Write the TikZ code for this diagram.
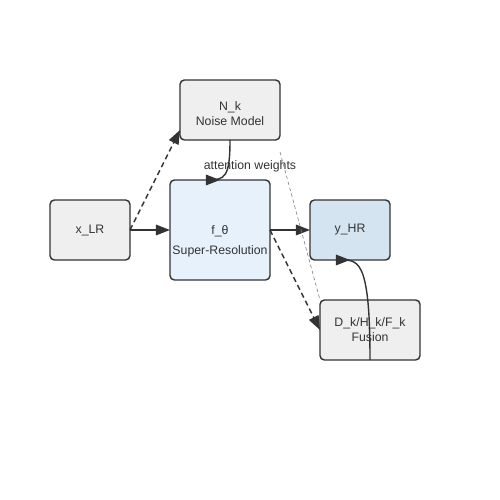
\documentclass[tikz,border=0pt]{standalone}
\usepackage{fontspec}
\setmainfont{Liberation Sans}
\usepackage{xcolor}
\usetikzlibrary{arrows.meta}
\usetikzlibrary{shapes,positioning}
\definecolor{nodegray}{HTML}{EFEFEF}
\definecolor{nodeblue}{HTML}{E6F1FC}
\definecolor{nodesteel}{HTML}{D4E5F1}
\definecolor{linegray}{HTML}{333333}
\tikzset{>={Triangle[length=8pt,width=6pt]}}
\tikzset{flow-line/.style={line width=0.8pt, color=linegray}}
\tikzset{flow-dashed/.style={line width=0.8pt, color=linegray, dash pattern=on 3pt off 2pt}}
\tikzset{flow-hint/.style={line width=0.35pt, color=gray, dash pattern=on 2pt off 1.5pt}}
\tikzset{flow-node/.style={draw=linegray, line width=0.8pt, fill=nodegray, rounded corners=2.5pt, minimum width=1.6cm, minimum height=1.2cm, inner sep=0, outer sep=0, align=center, text=linegray, font=\fontsize{7}{8.5}\selectfont}}
\tikzset{flow-text/.style={align=center, inner sep=0, text=linegray, font=\fontsize{7}{8.5}\selectfont}}

\begin{document}
\begin{tikzpicture}[]
            \useasboundingbox (0,0) rectangle (10,10);

            \node[flow-node] (xlr) at (1.8,5.4) {x\_LR};
            \node[flow-node, fill=nodeblue, minimum width=2cm, minimum height=2cm, right=0.8cm of xlr] (fsr) {};
            \node[flow-text] (fsrtext) at ([yshift=-0.22cm]fsr.center) {f\_θ\\[3pt]Super-Resolution};
            \node[flow-node, fill=nodesteel, right=0.8cm of fsr] (yhr) {y\_HR};

            \node[flow-node, minimum width=2cm, above=0.8cm of fsr, xshift=0.2cm] (nk) {};
            \node[flow-text] (nktext) at ([yshift=-0.07cm]nk.center) {N\_k\\Noise Model};
            \node[flow-node, minimum width=2cm, below=0.8cm of yhr, xshift=0.4cm] (fus) {D\_k/H\_k/F\_k\\Fusion};

            \node[flow-text] (attn) at ([xshift=0.6cm, yshift=0.28cm]fsr.north) {attention weights};

            \draw[->, flow-line] (xlr) -- (fsr);
            \draw[->, flow-line] (fsr) -- (yhr);
            \draw[->, flow-dashed] (xlr.east) -- ([yshift=0.2cm]nk.south west);
            \draw[->, flow-dashed] (fsr.east) -- (fus.west);
            \draw[flow-hint] ([yshift=-0.24cm]nk.south east) -- (fus.north west);

            \draw[->, flow-line] (nk.south)
                .. controls ([yshift=-0.75cm]nk.south) and ([xshift=0.1cm]fsr.north) ..
                ([xshift=-0.25cm]fsr.north) -- (fsr.north);
            \draw[->, flow-line] (fus.south)
                .. controls ([yshift=2.1cm]fus.south) and ([xshift=0.15cm]yhr.south) ..
                ([xshift=-0.25cm]yhr.south) -- (yhr.south);

        \end{tikzpicture}
\end{document}
